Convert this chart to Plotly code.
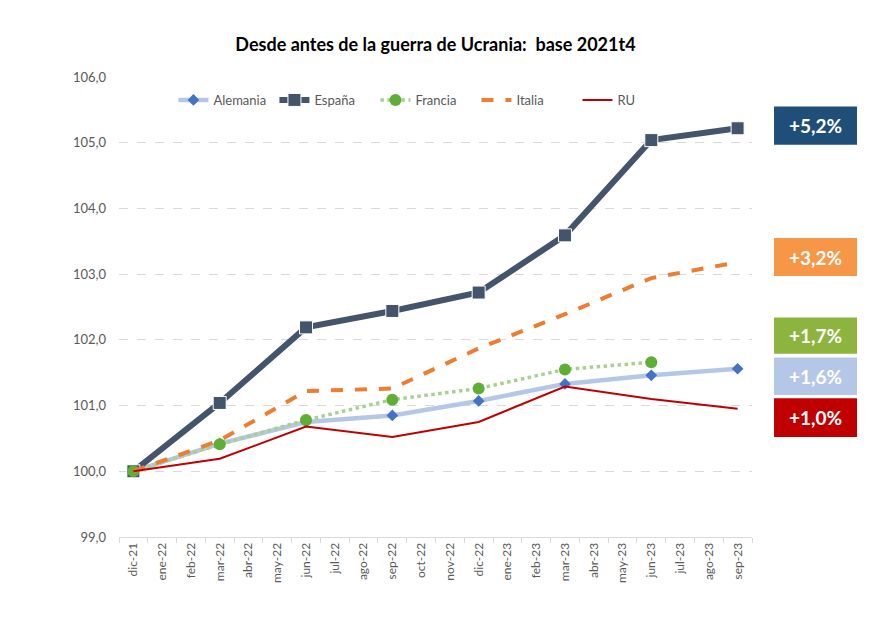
import plotly.graph_objects as go

months = ["dic-21", "ene-22", "feb-22", "mar-22", "abr-22", "may-22", "jun-22", "jul-22",
          "ago-22", "sep-22", "oct-22", "nov-22", "dic-22", "ene-23", "feb-23", "mar-23",
          "abr-23", "may-23", "jun-23", "jul-23", "ago-23", "sep-23"]
quarters = ["dic-21", "mar-22", "jun-22", "sep-22", "dic-22", "mar-23", "jun-23", "sep-23"]

alemania = [100.0, 100.42, 100.75, 100.85, 101.07, 101.33, 101.46, 101.56]
espana = [100.0, 101.04, 102.19, 102.44, 102.72, 103.59, 105.04, 105.22]
francia = [100.0, 100.41, 100.78, 101.09, 101.26, 101.55, 101.66]
italia = [100.0, 100.47, 101.22, 101.26, 101.87, 102.39, 102.94, 103.18]
ru = [100.0, 100.19, 100.68, 100.52, 100.75, 101.29, 101.10, 100.95]

box_labels = ["+5,2%", "+3,2%", "+1,7%", "+1,6%", "+1,0%"]
box_colors = ["#1F4E79", "#F79646", "#8DB43E", "#B4C7E7", "#C00000"]
box_ranges = [(104.97, 105.55), (102.97, 103.55), (101.79, 102.34), (101.16, 101.73), (100.52, 101.11)]

fig = go.Figure()
fig.add_trace(go.Scatter(x=quarters, y=alemania, name="Alemania", mode="lines+markers",
                         line=dict(color="#B4C7E7", width=4.5),
                         marker=dict(symbol="diamond", size=9, color="#4472C4")))
fig.add_trace(go.Scatter(x=quarters, y=espana, name="España", mode="lines+markers",
                         line=dict(color="#44546A", width=6),
                         marker=dict(symbol="square", size=13, color="#44546A",
                                     line=dict(color="white", width=1))))
fig.add_trace(go.Scatter(x=quarters[:len(francia)], y=francia, name="Francia", mode="lines+markers",
                         line=dict(color="#A9D18E", width=3.5, dash="dot"),
                         marker=dict(symbol="circle", size=12, color="#5FAE35")))
fig.add_trace(go.Scatter(x=quarters, y=italia, name="Italia", mode="lines",
                         line=dict(color="#ED7D31", width=4, dash="dash")))
fig.add_trace(go.Scatter(x=quarters, y=ru, name="RU", mode="lines",
                         line=dict(color="#C00000", width=2)))

bx0, bx1 = 1.0348, 1.1659
for lab, col, (y0, y1) in zip(box_labels, box_colors, box_ranges):
    fig.add_shape(type="rect", xref="paper", yref="y", x0=bx0, x1=bx1, y0=y0, y1=y1,
                  fillcolor=col, line=dict(width=0), layer="above")
    fig.add_annotation(xref="paper", yref="y", x=(bx0 + bx1) / 2, y=(y0 + y1) / 2,
                       xanchor="center", yanchor="middle",
                       text=f"<b>{lab}</b>", showarrow=False,
                       font=dict(family="Lato", size=19, color="white"))

# page body has an 8px margin: compensate so the plot area lands where the reference has it
fig.update_layout(
    width=878, height=631,
    margin=dict(l=111, r=134, t=69, b=102),
    paper_bgcolor="white", plot_bgcolor="white",
    separators=",.",
    title=dict(text="<b>Desde antes de la guerra de Ucrania:  base 2021t4</b>",
               x=0.5, xref="paper", y=1 - 37 / 631, yanchor="middle",
               font=dict(family="Lato", size=18, color="#000000")),
    font=dict(family="Lato", color="#595959"),
    showlegend=True,
    legend=dict(orientation="h", x=0.086, xanchor="left", y=0.95, yanchor="middle",
                font=dict(size=13, color="#595959"), bgcolor="rgba(0,0,0,0)",
                entrywidth=56, entrywidthmode="pixels", tracegroupgap=0),
    xaxis=dict(type="category", categoryorder="array", categoryarray=months,
               range=[-0.5, len(months) - 0.5], tickangle=-90, tickson="boundaries",
               ticks="outside", ticklen=5, tickcolor="#D9D9D9",
               showline=True, linecolor="#D9D9D9", linewidth=1, showgrid=False,
               tickfont=dict(size=12, color="#595959")),
    yaxis=dict(range=[99, 106], dtick=1, tickformat=".1f", showgrid=True,
               gridcolor="#D9D9D9", griddash="dash", gridwidth=1, zeroline=False,
               showline=False, ticklabelstandoff=12,
               tickfont=dict(size=13, color="#595959")),
)

fig.write_html("out.html")
